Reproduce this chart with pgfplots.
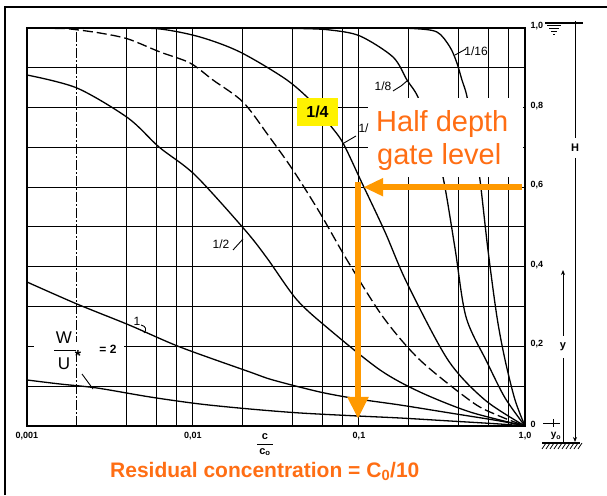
\documentclass[border=0pt]{standalone}
\usepackage{pgfplots}
\pgfplotsset{compat=1.18}
\usepackage{fontspec}
\setmainfont{Liberation Sans}
\usetikzlibrary{arrows.meta}
\definecolor{arroworange}{RGB}{255,153,0}
\definecolor{textorange}{RGB}{255,110,20}
\newcommand{\lbl}{\fontsize{12}{14}\selectfont}

\begin{document}
\begin{tikzpicture}[x=1pt,y=1pt]
\path[use as bounding box] (0,0) rectangle (607,495);

\begin{axis}[
  at={(27pt,69pt)}, anchor=south west,
  scale only axis, width=498pt, height=398pt,
  xmode=log, xmin=0.001, xmax=1, ymin=0, ymax=1,
  axis line style={line width=1.4pt},
  xtick={0.001,0.004,0.006,0.008,0.01,0.02,0.04,0.06,0.08,0.1,0.2,0.4,0.6,0.8,1},
  xticklabels={0{,}001,,,,0{,}01,,,,,0{,}1,,,,,1{,}0},
  xticklabel style={yshift=-3pt},
  extra x ticks={0.002}, extra x tick labels={},
  extra x tick style={grid=major, major grid style={line width=1pt, black, dash pattern=on 10pt off 2pt on 2pt off 2pt}},
  ytick={0,0.1,0.2,0.3,0.4,0.5,0.6,0.7,0.8,0.9,1},
  yticklabels={0,,0{,}2,,0{,}4,,0{,}6,,0{,}8,,1{,}0},
  yticklabel pos=right,
  yticklabel style={yshift=2pt, xshift=2pt},
  major tick length=0pt,
  grid=major,
  major grid style={line width=1pt, black},
  tick label style={font=\bfseries\fontsize{9}{10}\selectfont},
]
% W/U* = 2
\addplot[black, line width=1.3pt, smooth, tension=0.5] coordinates {
(0.001,0.1156) (0.00158,0.1055) (0.00264,0.0955) (0.00551,0.0729) (0.0110,0.0553)
(0.0220,0.0427) (0.0441,0.0327) (0.0986,0.0251) (0.1766,0.0201) (0.353,0.0126)
(0.706,0.0050) (1,0)};
% W/U* = 1
\addplot[black, line width=1.3pt, smooth, tension=0.5] coordinates {
(0.001,0.3618) (0.0020,0.3065) (0.00412,0.2538) (0.00835,0.1985) (0.0220,0.1357)
(0.0303,0.1156) (0.0582,0.0854) (0.0986,0.0678) (0.1766,0.0528) (0.353,0.0327)
(0.706,0.0126) (1,0)};
% W/U* = 1/2
\addplot[black, line width=1.3pt, smooth, tension=0.5] coordinates {
(0.001,0.8819) (0.0020,0.8492) (0.00406,0.7739) (0.00624,0.7010) (0.01028,0.6307)
(0.02056,0.4925) (0.0279,0.4221) (0.04234,0.3166) (0.0669,0.2412) (0.1339,0.1407)
(0.2329,0.0854) (0.4667,0.0352) (1,0)};
% dashed curve
\addplot[black, line width=1.3pt, smooth, tension=0.5, dash pattern=on 10pt off 4pt] coordinates {
(0.001,1.0) (0.00148,0.999) (0.00182,0.9975) (0.00275,0.9874) (0.00406,0.9724)
(0.00633,0.9397) (0.00959,0.9121) (0.0132,0.8693) (0.0200,0.8141) (0.0283,0.7312)
(0.0400,0.6432) (0.0582,0.5352) (0.0847,0.4171) (0.1396,0.2739) (0.2329,0.1658)
(0.4797,0.0603) (0.6778,0.0276) (1,0)};
% W/U* = 1/4
\addplot[black, line width=1.3pt, smooth, tension=0.5] coordinates {
(0.001,1.0) (0.00363,0.9995) (0.00633,0.9975) (0.01102,0.9774) (0.01919,0.9397)
(0.03683,0.8693) (0.0543,0.8065) (0.0669,0.7563) (0.0801,0.7111) (0.1042,0.6106)
(0.1435,0.4874) (0.1946,0.3593) (0.3436,0.1658) (0.574,0.0653) (1,0)};
% W/U* = 1/8
\addplot[black, line width=1.3pt, smooth, tension=0.5] coordinates {
(0.0220,1.0) (0.0441,0.9987) (0.0669,0.995) (0.1014,0.9799) (0.1603,0.9271)
(0.1946,0.8693) (0.2265,0.8266) (0.2677,0.7387) (0.3206,0.6256) (0.3786,0.4472)
(0.4413,0.2739) (0.590,0.1608) (0.7586,0.0704) (1,0)};
% W/U* = 1/16
\addplot[black, line width=1.3pt, smooth, tension=0.5] coordinates {
(0.1339,1.0) (0.2115,0.9987) (0.2951,0.9899) (0.353,0.9523) (0.389,0.9121)
(0.417,0.8693) (0.4477,0.8266) (0.493,0.7186) (0.5358,0.6181) (0.5984,0.4422)
(0.6778,0.2739) (0.7586,0.1658) (0.871,0.0653) (1,0)};
% orange annotations
\draw[arroworange, line width=6pt] (axis cs:0.0986,0.612) -- (axis cs:0.0986,0.06);
\draw[arroworange, line width=6pt, -{Triangle[length=22pt,width=20pt]}] (axis cs:0.0986,0.1) -- (axis cs:0.0986,0.018);
\draw[arroworange, line width=6pt, -{Triangle[length=20pt,width=17pt]}] (axis cs:0.96,0.6) -- (axis cs:0.106,0.6);
\end{axis}

\begin{scope}[yshift=495pt, yscale=-1]
% outer frame
\draw[line width=2.5pt] (5,495) -- (5,7) -- (607,7);
% white box behind text
\fill[white] (368,98) rectangle (523,177);
\node[anchor=base west, text=textorange, font=\fontsize{29}{33}\selectfont, inner sep=0] at (376,132) {Half depth};
\node[anchor=base west, text=textorange, font=\fontsize{29}{33}\selectfont, inner sep=0] at (377,165) {gate level};
% yellow label
\node[fill=yellow, font=\bfseries\fontsize{16}{18}\selectfont, minimum width=41pt, minimum height=28pt, inner sep=0] at (317.5,112) {1/4};
% bottom annotation
\node[anchor=base west, text=textorange, font=\bfseries\fontsize{21}{24}\selectfont, inner sep=0] at (110,477) {Residual concentration = C\textsubscript{0}/10};
% x label c/co
\node[font=\bfseries\fontsize{11}{12}\selectfont] at (265,437) {c};
\draw[line width=0.9pt] (257,444) -- (273,444);
\node[font=\bfseries\fontsize{11}{12}\selectfont] at (265,452) {c\textsubscript{o}};
% curve labels
\node[font=\lbl] at (476,51) {1/16};
\draw[line width=0.9pt] (455,55) -- (466,49);
\node[font=\lbl] at (383,86) {1/8};
\draw[line width=0.9pt] (393,91) -- (401,86) -- (407,81);
\node[font=\lbl, anchor=west] at (355,128) {1/};
\draw[line width=0.9pt] (344,143) -- (356,136);
\node[font=\lbl] at (221,244) {1/2};
\draw[line width=0.9pt] (233,250) -- (243,239);
\node[font=\lbl] at (137,321) {1};
\draw[line width=0.9pt] (141,325) .. controls (146,326) and (147,330) .. (144,333);
% W/U* = 2
\fill[white] (34,342) rectangle (124,351);
\node[font=\fontsize{17}{18}\selectfont] at (64,338) {W};
\draw[line width=0.9pt] (54,350) -- (76,350);
\node[font=\fontsize{17}{18}\selectfont] at (64,364) {U};
\node[font=\bfseries\fontsize{16}{18}\selectfont] at (78,356) {*};
\node[font=\bfseries\lbl] at (108,349) {= 2};
\draw[line width=0.9pt] (82,374) -- (93,389);
% right side: water surface
\draw[line width=1.2pt] (545,23) -- (583,23);
\draw[line width=1pt] (547,26) -- (561,26);
\draw[line width=1pt] (549,29) -- (559,29);
\draw[line width=1pt] (551,32) -- (557,32);
\draw[line width=1pt] (553,35) -- (555,35);
% H dimension
\draw[line width=0.9pt] (575,21) -- (575,27);
\draw[line width=0.9pt] (575,25) -- (575,138);
\draw[line width=0.9pt, -{Stealth[length=5pt,width=4pt]}] (575,158) -- (575,442);
\node[font=\bfseries\fontsize{11}{12}\selectfont] at (575,148) {H};
% y dimension
\draw[line width=0.9pt, {Stealth[length=5pt,width=4pt]}-] (563,270) -- (563,336);
\draw[line width=0.9pt] (563,358) -- (563,442);
\node[font=\bfseries\fontsize{11}{12}\selectfont] at (563,347) {y};
% y0 marker
\draw[line width=0.9pt] (543,423) -- (560,423);
\draw[line width=0.9pt] (553,419) -- (553,427);
\node[font=\bfseries\fontsize{10}{12}\selectfont] at (556,436) {y\textsubscript{o}};
% ground
\draw[line width=1.1pt] (542,443) -- (580,443);
\foreach \gx in {542,546,...,578} {\draw[line width=0.8pt] (\gx,449) -- (\gx+4,443);}
\end{scope}
\end{tikzpicture}
\end{document}
